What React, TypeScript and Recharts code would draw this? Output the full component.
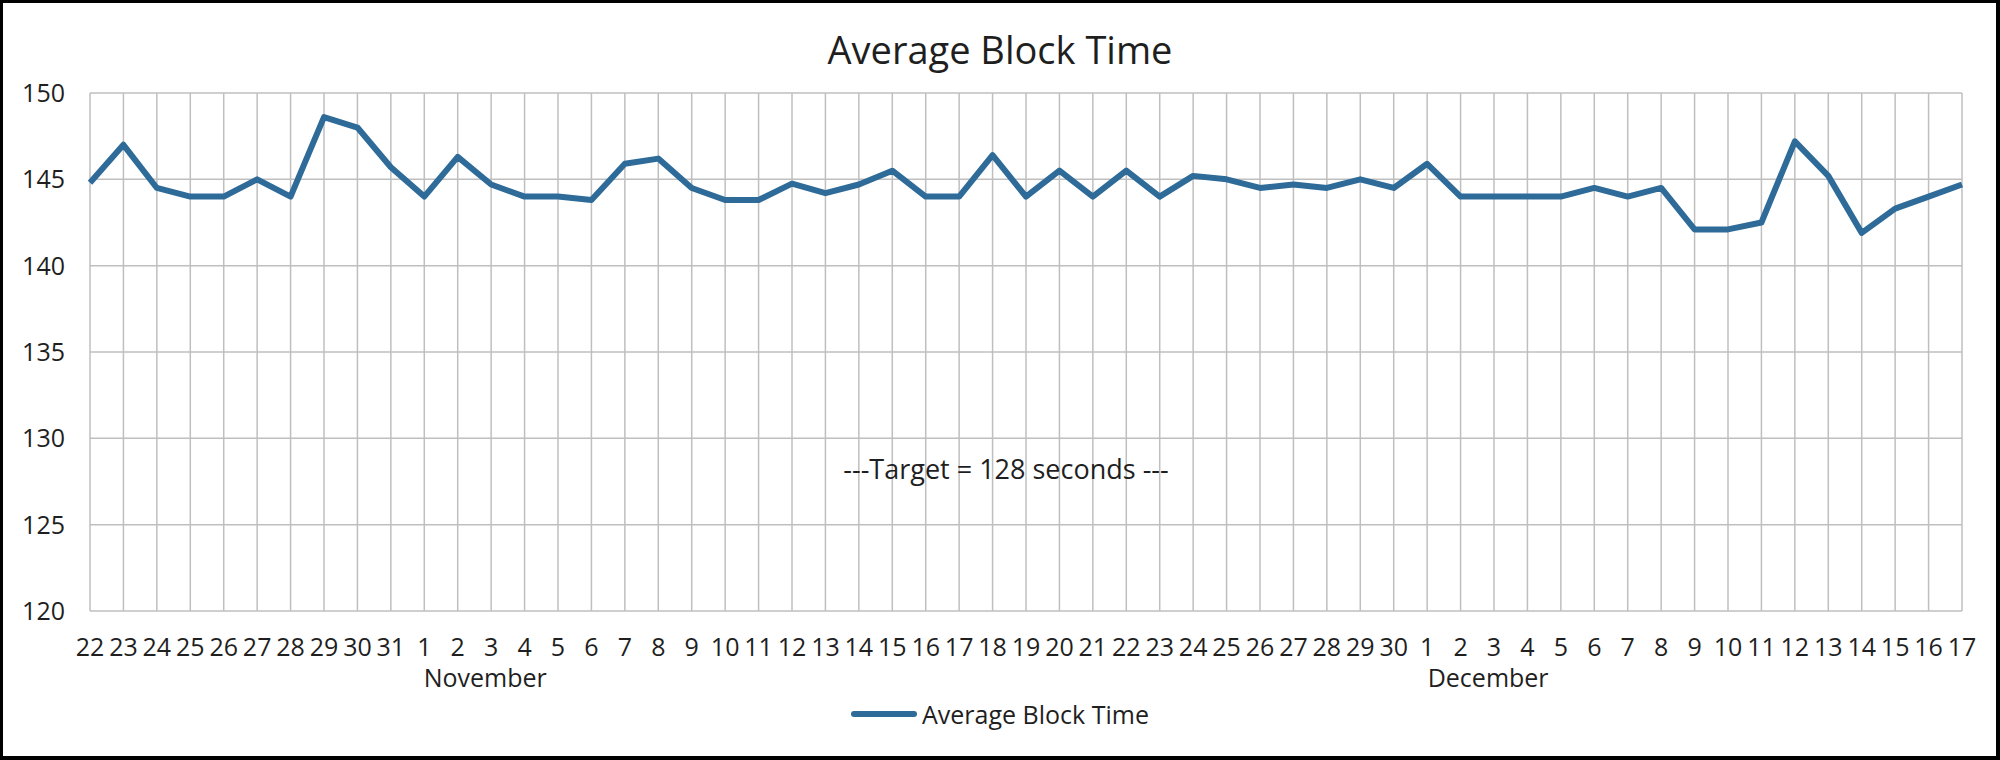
import React from 'react';
import { LineChart, Line, XAxis, YAxis, CartesianGrid, Legend, ReferenceLine } from 'recharts';

// day labels per month (x axis categories)
const octoberDays = ['22', '23', '24', '25', '26', '27', '28', '29', '30', '31'];
const novemberDays = [
  '1', '2', '3', '4', '5', '6', '7', '8', '9', '10',
  '11', '12', '13', '14', '15', '16', '17', '18', '19', '20',
  '21', '22', '23', '24', '25', '26', '27', '28', '29', '30',
];
const decemberDays = ['1', '2', '3', '4', '5', '6', '7', '8', '9', '10', '11', '12', '13', '14', '15', '16', '17'];

// average block time in seconds, one value per day
const blockTime = [
  144.8, 147.0, 144.5, 144.0, 144.0, 145.0, 144.0, 148.6, 148.0, 145.7,
  144.0, 146.3, 144.7, 144.0, 144.0, 143.8, 145.9, 146.2, 144.5, 143.8,
  143.8, 144.75, 144.2, 144.7, 145.5, 144.0, 144.0, 146.4, 144.0, 145.5,
  144.0, 145.5, 144.0, 145.2, 145.0, 144.5, 144.7, 144.5, 145.0, 144.5,
  145.9, 144.0, 144.0, 144.0, 144.0, 144.5, 144.0, 144.5, 142.1, 142.1,
  142.5, 147.2, 145.2, 141.9, 143.3, 144.0, 144.7,
];

const yTicks = [120, 125, 130, 135, 140, 145, 150];
const targetSeconds = 128;
const seriesName = 'Average Block Time';
const targetNote = '---Target = 128 seconds ---';

const FONT = '"Open Sans", sans-serif';
const TEXT = '#1f1f1f';
const LINE = '#2e6b99';
const GRID = '#bfbfbf';

const days = [
  ...octoberDays.map((d) => ({ month: 'October', day: d })),
  ...novemberDays.map((d) => ({ month: 'November', day: d })),
  ...decemberDays.map((d) => ({ month: 'December', day: d })),
];

const data = days.map((d, i) => ({
  key: `${d.month} ${d.day}`,
  month: d.month,
  day: d.day,
  [seriesName]: blockTime[i],
}));

const byKey = new Map(data.map((d) => [d.key, d]));

const DayTick = (props: any) => {
  const { x, y, payload } = props;
  const row = byKey.get(payload.value);
  if (!row) return null;
  return (
    <g>
      <text x={x} y={y + 36} dy="0.355em" textAnchor="middle" fontSize={25} fill={TEXT} fontFamily={FONT}>
        {row.day}
      </text>
      {row.day === '1' && (
        <text x={x + 61} y={y + 67} dy="0.355em" textAnchor="middle" fontSize={25} fill={TEXT} fontFamily={FONT}>
          {row.month}
        </text>
      )}
    </g>
  );
};

const TargetLabel = (props: any) => {
  const { viewBox } = props;
  if (!viewBox) return null;
  return (
    <text
      x={viewBox.x + viewBox.width / 2 - 20}
      y={viewBox.y - 3}
      dy="0.355em"
      textAnchor="middle"
      fontSize={27}
      fill={TEXT}
      fontFamily={FONT}
    >
      {targetNote}
    </text>
  );
};

const renderLegend = (props: any) => {
  const { payload } = props;
  return (
    <div style={{ display: 'flex', justifyContent: 'center', alignItems: 'center', height: 30 }}>
      {(payload || []).map((entry: any) => (
        <div key={entry.value} style={{ display: 'flex', alignItems: 'center' }}>
          <span
            style={{ display: 'inline-block', width: 66, height: 6, borderRadius: 3, background: entry.color, marginRight: 5 }}
          />
          <span style={{ fontFamily: FONT, fontSize: 25, color: TEXT }}>{entry.value}</span>
        </div>
      ))}
    </div>
  );
};

export default function App() {
  return (
    <div style={{ position: 'relative', width: 2000, height: 760, background: '#fff', fontFamily: FONT }}>
      <style>{'body { margin: 0; }'}</style>
      <div
        style={{
          position: 'absolute',
          top: 30,
          left: 0,
          width: 2000,
          textAlign: 'center',
          fontSize: 38,
          lineHeight: '38px',
          color: TEXT,
        }}
      >
        Average Block Time
      </div>
      <LineChart width={2000} height={760} data={data} margin={{ top: 93, right: 38, bottom: 19, left: 0 }}>
        <CartesianGrid stroke={GRID} strokeWidth={1.5} />
        <XAxis
          dataKey="key"
          interval={0}
          tickLine={false}
          axisLine={false}
          tickSize={0}
          tickMargin={0}
          height={100}
          tick={<DayTick />}
        />
        <YAxis
          domain={[120, 150]}
          ticks={yTicks}
          interval={0}
          width={90}
          tickLine={false}
          axisLine={false}
          tickSize={0}
          tickMargin={25}
          tick={{ fontSize: 25, fill: TEXT, fontFamily: FONT }}
        />
        <ReferenceLine y={targetSeconds} stroke="none" label={<TargetLabel />} />
        <Legend content={renderLegend} wrapperStyle={{ top: 699, left: 0, width: 2000 }} />
        <Line
          type="linear"
          dataKey={seriesName}
          stroke={LINE}
          strokeWidth={6}
          strokeLinejoin="round"
          dot={false}
          activeDot={false}
          isAnimationActive={false}
        />
      </LineChart>
      <div
        style={{
          position: 'absolute',
          inset: 0,
          borderStyle: 'solid',
          borderColor: '#000',
          borderWidth: '3px 4px 4px 3px',
          boxSizing: 'border-box',
          pointerEvents: 'none',
        }}
      />
    </div>
  );
}
